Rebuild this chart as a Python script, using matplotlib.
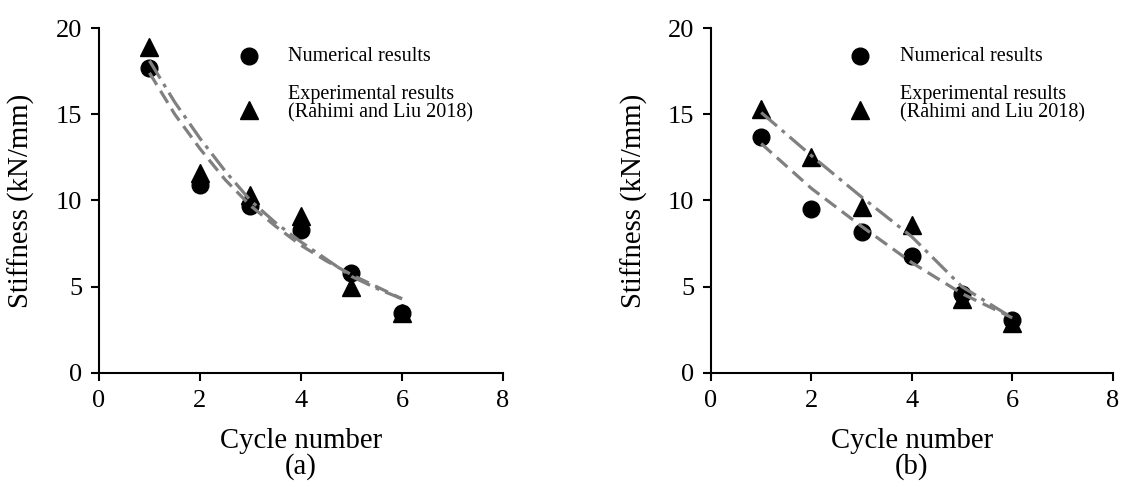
import matplotlib
matplotlib.use("Agg")
import matplotlib.pyplot as plt
from matplotlib.legend_handler import HandlerLine2D

plt.rcParams['font.family'] = ['Liberation Serif', 'DejaVu Serif']

# Cycle numbers
cycles = [1, 2, 3, 4, 5, 6]

# Panel (a): stiffness per cycle (kN/mm)
num_a = [17.7, 10.9, 9.7, 8.3, 5.8, 3.5]
exp_a = [18.9, 11.6, 10.3, 9.1, 5.0, 3.5]
# Panel (a): trend curves
trend_x_a = [1, 1.5, 2, 2.5, 3, 3.5, 4, 4.5, 5, 5.5, 6]
trend_num_a = [17.4, 15.0, 13.0, 11.2, 9.7, 8.5, 7.4, 6.5, 5.7, 5.0, 4.3]
trend_exp_a = [18.1, 15.7, 13.6, 11.7, 10.0, 8.7, 7.6, 6.6, 5.6, 4.9, 4.3]

# Panel (b): stiffness per cycle (kN/mm)
num_b = [13.7, 9.5, 8.2, 6.8, 4.6, 3.1]
exp_b = [15.3, 12.5, 9.6, 8.6, 4.3, 2.9]
# Panel (b): trend lines
trend_x_b = [1, 2, 3, 4, 5, 6]
trend_num_b = [13.3, 10.7, 8.5, 6.4, 4.6, 3.2]
trend_exp_b = [15.1, 12.6, 10.2, 7.9, 5.0, 3.2]

xticks = [0, 2, 4, 6, 8]
yticks = [0, 5, 10, 15, 20]
panel_tags = ['(a)', '(b)']


class OffsetMarkerHandler(HandlerLine2D):
    """Legend handler that nudges the marker vertically by dy points."""

    def __init__(self, dy=0.0, **kw):
        super().__init__(**kw)
        self.dy = dy

    def create_artists(self, legend, orig_handle, xdescent, ydescent,
                       width, height, fontsize, trans):
        artists = super().create_artists(legend, orig_handle, xdescent, ydescent,
                                         width, height, fontsize, trans)
        for a in artists:
            y = a.get_ydata()
            a.set_ydata([v + self.dy for v in y])
        return artists


fig = plt.figure(figsize=(11.25, 4.87), dpi=100)
ax_a = fig.add_axes([0.088, 0.2341, 0.3591, 0.7084])
ax_b = fig.add_axes([0.632, 0.2341, 0.3570, 0.7084])

gray = '#808080'
lw = 2.3

panels = [
    (ax_a, num_a, exp_a, trend_x_a, trend_num_a, trend_exp_a),
    (ax_b, num_b, exp_b, trend_x_b, trend_num_b, trend_exp_b),
]

for i, (ax, num, exp, tx, tnum, texp) in enumerate(panels):
    h_exp, = ax.plot(cycles, exp, linestyle='none', marker='^', markersize=12.5,
                     color='black', zorder=2)
    h_num, = ax.plot(cycles, num, linestyle='none', marker='o', markersize=12,
                     color='black', zorder=2)
    ax.plot(tx, tnum, color=gray, lw=lw, dashes=(4.4, 2.2), zorder=3)
    ax.plot(tx, texp, color=gray, lw=lw, dashes=(6.5, 2.0, 1.2, 2.0), zorder=3)

    ax.set_xlim(0, 8)
    ax.set_ylim(0, 20)
    ax.set_xticks(xticks)
    ax.set_yticks(yticks)
    for s in ('top', 'right'):
        ax.spines[s].set_visible(False)
    for s in ('left', 'bottom'):
        ax.spines[s].set_linewidth(1.5)
    ax.tick_params(direction='out', length=6, width=1.5, labelsize=19, pad=6)

    ax.set_xlabel('Cycle number', fontsize=20.7)
    ax.xaxis.set_label_coords(0.5, -0.2174)
    ax.xaxis.label.set_va('baseline')
    ax.set_ylabel('Stiffness (kN/mm)', fontsize=20.7)
    ax.yaxis.set_label_coords(-0.158, 0.5)
    ax.text(0.5, -0.293, panel_tags[i], transform=ax.transAxes,
            ha='center', va='baseline', fontsize=20.7)

    leg = ax.legend([h_num, h_exp],
                    ['Numerical results', 'Experimental results\n(Rahimi and Liu 2018)'],
                    loc='upper left', bbox_to_anchor=(0.322, 0.945), frameon=False,
                    fontsize=14.5, borderpad=0, borderaxespad=0, handlelength=2.0,
                    handletextpad=0.95, labelspacing=0.95,
                    handler_map={h_num: OffsetMarkerHandler(dy=-1.5),
                                 h_exp: OffsetMarkerHandler(dy=-4.5)})
    for t in leg.get_texts():
        t.set_linespacing(0.95)

fig.savefig('out.png', dpi=100)
